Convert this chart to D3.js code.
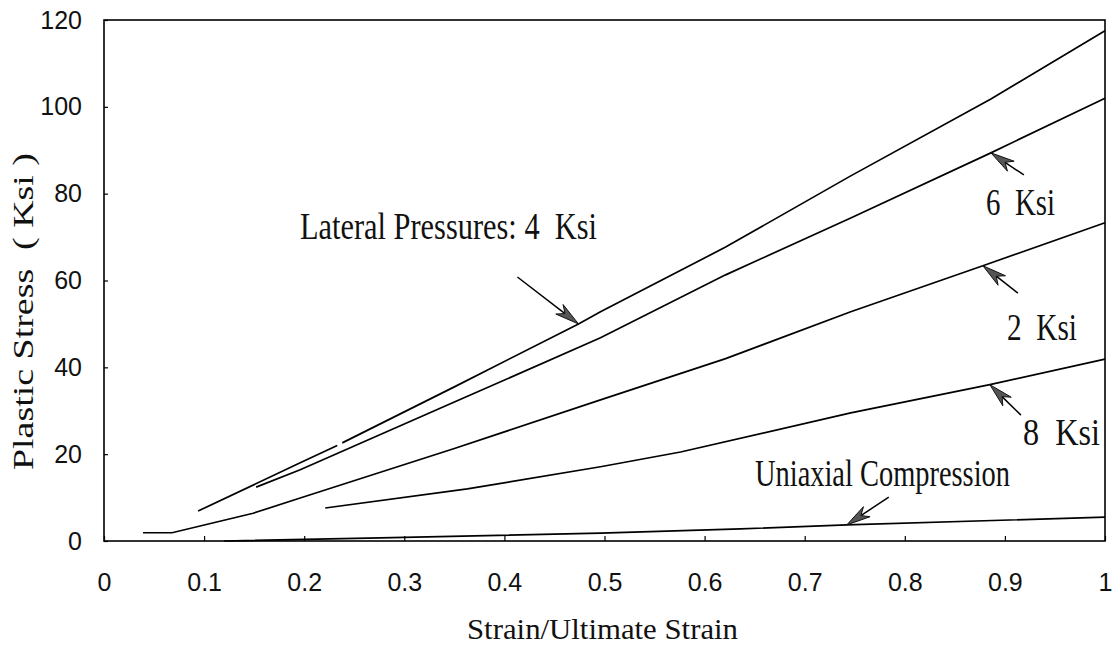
<!DOCTYPE html>
<html>
<head>
<meta charset="utf-8">
<script src="https://cdn.jsdelivr.net/npm/d3@7"></script>
<style>
  body { margin: 0; background: #fff; }
  svg text { white-space: pre; }
</style>
</head>
<body>
<div id="chart"></div>
<script>
// tick values
const xTicks = [0, 0.1, 0.2, 0.3, 0.4, 0.5, 0.6, 0.7, 0.8, 0.9, 1];
const xTickLabels = ['0', '0.1', '0.2', '0.3', '0.4', '0.5', '0.6', '0.7', '0.8', '0.9', '1'];
const yTicks = [0, 20, 40, 60, 80, 100, 120];

// curves: [strain ratio, stress ksi], null = pen lift
const curve4Ksi = [[0.094, 6.9], [0.196, 18.0], [0.233, 22.0], null, [0.238, 22.6], [0.35, 35.5],
    [0.474, 50.0], [0.496, 52.8], [0.621, 67.7], [0.746, 84.1], [0.886, 101.8], [1.0, 117.5]];
const curve6Ksi = [[0.152, 12.4], [0.196, 16.4], [0.35, 32.0], [0.496, 46.8], [0.621, 61.3],
    [0.746, 74.4], [0.886, 89.4], [1.0, 102.0]];
const curve2Ksi = [[0.039, 1.9], [0.068, 1.9], [0.149, 6.4], [0.196, 9.9], [0.35, 21.3],
    [0.496, 32.5], [0.621, 42.0], [0.746, 52.8], [0.878, 63.4], [1.0, 73.3]];
const curve8Ksi = [[0.221, 7.6], [0.363, 12.0], [0.496, 17.1], [0.576, 20.5], [0.746, 29.5],
    [0.885, 36.0], [1.0, 41.9]];
const curveUniaxial = [[0.12, 0.0], [0.276, 0.7], [0.496, 1.8], [0.636, 2.8], [0.742, 3.7], [1.0, 5.5]];

// arrows: tail -> tip, in data units
const arrowTails = [[0.413, 60.8], [0.919, 84.3], [0.913, 57.1], [0.916, 29.0], [0.784, 10.1]];
const arrowTips = [[0.474, 50.0], [0.886, 89.4], [0.878, 63.4], [0.885, 36.0], [0.742, 3.7]];

const labelTexts = ['Lateral Pressures: 4  Ksi', '6  Ksi', '2  Ksi', '8  Ksi', 'Uniaxial Compression'];

const width = 1113, height = 655;
const margin = {top: 20, right: 8, bottom: 114, left: 104};

const svg = d3.select('#chart').append('svg')
    .attr('width', width)
    .attr('height', height);

const x = d3.scaleLinear().domain([0, 1]).range([margin.left, width - margin.right]);
const y = d3.scaleLinear().domain([0, 120]).range([height - margin.bottom, margin.top]);

const tickFont = '"Liberation Sans Narrow", "Arial Narrow", "Liberation Sans", Arial, sans-serif';
const plotFont = '"Liberation Serif", "DejaVu Serif", serif';

// y axis
const yAxis = svg.append('g')
    .attr('transform', `translate(${x(0)},0)`)
    .call(d3.axisLeft(y).tickValues(yTicks).tickSizeInner(-4).tickSizeOuter(0).tickPadding(22));
yAxis.select('.domain').remove();
yAxis.selectAll('line').attr('stroke', '#000').attr('stroke-width', 1.2);
yAxis.selectAll('text').style('font-family', tickFont).style('font-size', '25px').attr('fill', '#111');

// x axis
const xAxis = svg.append('g')
    .attr('transform', `translate(0,${y(0)})`)
    .call(d3.axisBottom(x).tickValues(xTicks).tickFormat((d, i) => xTickLabels[i])
        .tickSizeInner(-5).tickSizeOuter(0).tickPadding(32));
xAxis.select('.domain').remove();
xAxis.selectAll('line').attr('stroke', '#000').attr('stroke-width', 1.2);
xAxis.selectAll('text').style('font-family', tickFont).style('font-size', '25px').attr('fill', '#111');

// frame
svg.append('rect')
    .attr('x', x(0)).attr('y', y(120))
    .attr('width', x(1) - x(0)).attr('height', y(0) - y(120))
    .attr('fill', 'none').attr('stroke', '#000').attr('stroke-width', 1.6);

// curves
const line = d3.line()
    .defined(d => d !== null)
    .x(d => x(d[0]))
    .y(d => y(d[1]));

svg.selectAll('.curve')
    .data([curve4Ksi, curve6Ksi, curve2Ksi, curve8Ksi, curveUniaxial])
    .join('path')
    .attr('class', 'curve')
    .attr('d', line)
    .attr('fill', 'none')
    .attr('stroke', '#000')
    .attr('stroke-width', 1.7);

// arrows
arrowTips.forEach(function (tip, i) {
    const tail = arrowTails[i];
    const tx = x(tip[0]), ty = y(tip[1]);
    const sx = x(tail[0]), sy = y(tail[1]);
    const len = Math.hypot(tx - sx, ty - sy);
    const ux = (tx - sx) / len, uy = (ty - sy) / len;
    const nx = -uy, ny = ux;
    const L = 24, w = 6, notch = 7;
    svg.append('line')
        .attr('x1', sx).attr('y1', sy)
        .attr('x2', tx - ux * (L - notch)).attr('y2', ty - uy * (L - notch))
        .attr('stroke', '#000').attr('stroke-width', 1.5);
    const pts = [
        [tx, ty],
        [tx - ux * L + nx * w, ty - uy * L + ny * w],
        [tx - ux * (L - notch), ty - uy * (L - notch)],
        [tx - ux * L - nx * w, ty - uy * L - ny * w]
    ];
    svg.append('polygon')
        .attr('points', pts.map(p => p.join(',')).join(' '))
        .attr('fill', '#555')
        .attr('stroke', '#111')
        .attr('stroke-width', 1);
});

// labels inside the plot
const labelLayout = [
    {x: 300, y: 239, len: 297},
    {x: 986, y: 215, len: 69},
    {x: 1007, y: 340, len: 70},
    {x: 1023, y: 445, len: 77},
    {x: 755, y: 486, len: 255}
];
labelTexts.forEach(function (t, i) {
    const p = labelLayout[i];
    svg.append('text')
        .attr('x', p.x).attr('y', p.y)
        .attr('textLength', p.len)
        .attr('lengthAdjust', 'spacingAndGlyphs')
        .style('font-family', plotFont)
        .style('font-size', '37px')
        .attr('fill', '#111')
        .text(t);
});

// axis titles
svg.append('text')
    .attr('x', 467).attr('y', 639)
    .attr('textLength', 271)
    .attr('lengthAdjust', 'spacingAndGlyphs')
    .style('font-family', plotFont)
    .style('font-size', '29px')
    .attr('fill', '#111')
    .text('Strain/Ultimate Strain');

svg.append('text')
    .attr('transform', 'translate(33,470) rotate(-90)')
    .attr('textLength', 317)
    .attr('lengthAdjust', 'spacingAndGlyphs')
    .style('font-family', plotFont)
    .style('font-size', '29px')
    .attr('fill', '#111')
    .text('Plastic Stress  ( Ksi )');
</script>
</body>
</html>
